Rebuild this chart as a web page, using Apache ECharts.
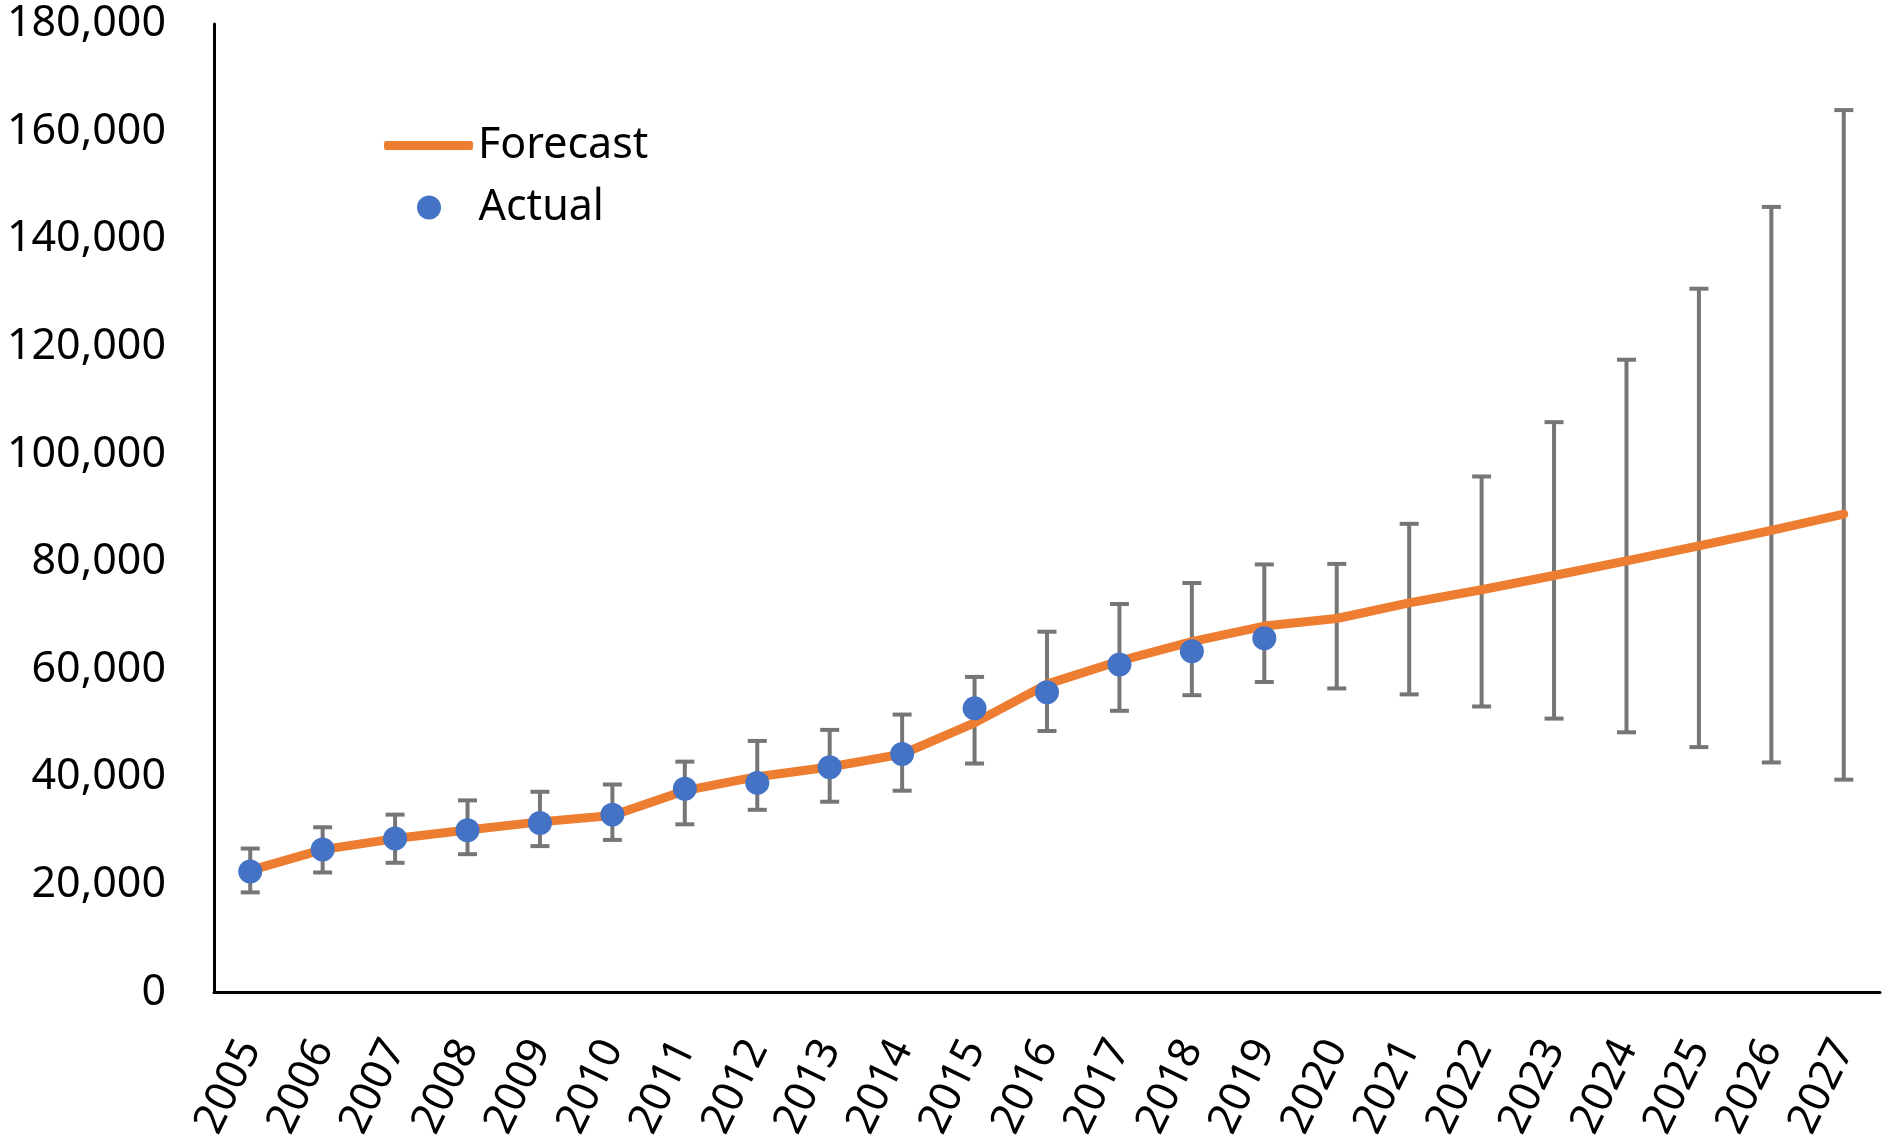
<!DOCTYPE html>
<html>
<head>
<meta charset="utf-8">
<script src="https://cdn.jsdelivr.net/npm/echarts@6/dist/echarts.min.js"></script>
<style>
  html, body { margin: 0; padding: 0; background: #fff; }
  #chart { width: 1888px; height: 1143px; }
</style>
</head>
<body>
<div id="chart"></div>
<script>
// data
var years = ['2005','2006','2007','2008','2009','2010','2011','2012','2013','2014','2015','2016',
             '2017','2018','2019','2020','2021','2022','2023','2024','2025','2026','2027'];
var forecast = [22700, 26550, 28600, 30200, 31700, 32900, 37500, 40100, 41900, 44300, 50100, 57300,
                61600, 65200, 68100, 69500, 72400, 74850, 77500, 80200, 83000, 85900, 88900];
var actual = [22500, 26550, 28600, 30150, 31500, 33050, 37850, 38950, 41850, 44300, 52800, 55800,
              60950, 63400, 65850];
var errLow = [18600, 22300, 24100, 25700, 27200, 28350, 31250, 33950, 35450, 37500, 42550, 48600,
              52350, 55250, 57700, 56500, 55400, 53150, 50900, 48350, 45600, 42750, 39550];
var errHigh = [26750, 30700, 33050, 35700, 37300, 38650, 42900, 46750, 48800, 51650, 58650, 67050,
               72200, 76100, 79550, 79650, 87100, 95900, 106000, 117600, 130800, 146000, 164000];

var font = "'Noto Sans', 'Open Sans', sans-serif";

var chart = echarts.init(document.getElementById('chart'));

// error bar rows: [category index, low, high]
var errData = years.map(function (y, i) { return [i, errLow[i], errHigh[i]]; });

function drawErrorBar(params, api) {
  var top = api.coord([api.value(0), api.value(2)]);
  var bot = api.coord([api.value(0), api.value(1)]);
  var half = 9.5;
  var style = { stroke: '#767676', lineWidth: 4 };
  return {
    type: 'group',
    children: [
      { type: 'line', shape: { x1: top[0], y1: top[1], x2: bot[0], y2: bot[1] }, style: style },
      { type: 'line', shape: { x1: top[0] - half, y1: top[1], x2: top[0] + half, y2: top[1] }, style: style },
      { type: 'line', shape: { x1: bot[0] - half, y1: bot[1], x2: bot[0] + half, y2: bot[1] }, style: style }
    ]
  };
}

var option = {
  animation: false,
  backgroundColor: '#fff',
  textStyle: { fontFamily: font },
  grid: { left: 214, right: 8, top: 24, bottom: 150, containLabel: false },
  legend: [
    {
      data: [{ name: 'Forecast', icon: 'roundRect' }],
      left: 384, top: 124, padding: 0,
      itemWidth: 89, itemHeight: 9,
      textStyle: { fontSize: 43, color: '#000', fontFamily: font }
    },
    {
      // circle icon keeps its aspect, so the item is shifted to centre the dot under the line
      data: [{ name: 'Actual', icon: 'circle' }],
      left: 417, top: 186, padding: 0,
      itemWidth: 89, itemHeight: 24,
      textStyle: { fontSize: 43, color: '#000', fontFamily: font }
    }
  ],
  xAxis: {
    type: 'category',
    data: years,
    boundaryGap: true,
    axisLine: { lineStyle: { color: '#000', width: 3 } },
    axisTick: { show: false },
    axisLabel: { rotate: 64, margin: 50, fontSize: 43, color: '#000', fontFamily: font, interval: 0 },
    splitLine: { show: false }
  },
  yAxis: {
    type: 'value',
    min: 0, max: 180000, interval: 20000,
    axisLine: { show: true, lineStyle: { color: '#000', width: 3 } },
    axisTick: { show: false },
    splitLine: { show: false },
    axisLabel: {
      margin: 48, fontSize: 43, color: '#000', fontFamily: font,
      formatter: function (v) { return v.toLocaleString('en-US'); }
    }
  },
  series: [
    {
      name: 'Errors',
      type: 'custom',
      renderItem: drawErrorBar,
      data: errData,
      z: 1,
      silent: true
    },
    {
      name: 'Forecast',
      type: 'line',
      data: forecast,
      symbol: 'none',
      color: '#ED7D31',
      lineStyle: { color: '#ED7D31', width: 9, cap: 'round', join: 'round' },
      z: 2
    },
    {
      name: 'Actual',
      type: 'scatter',
      data: actual,
      symbol: 'circle',
      symbolSize: 24,
      itemStyle: { color: '#4472C4', opacity: 1 },
      z: 3
    }
  ]
};

chart.setOption(option);
</script>
</body>
</html>
